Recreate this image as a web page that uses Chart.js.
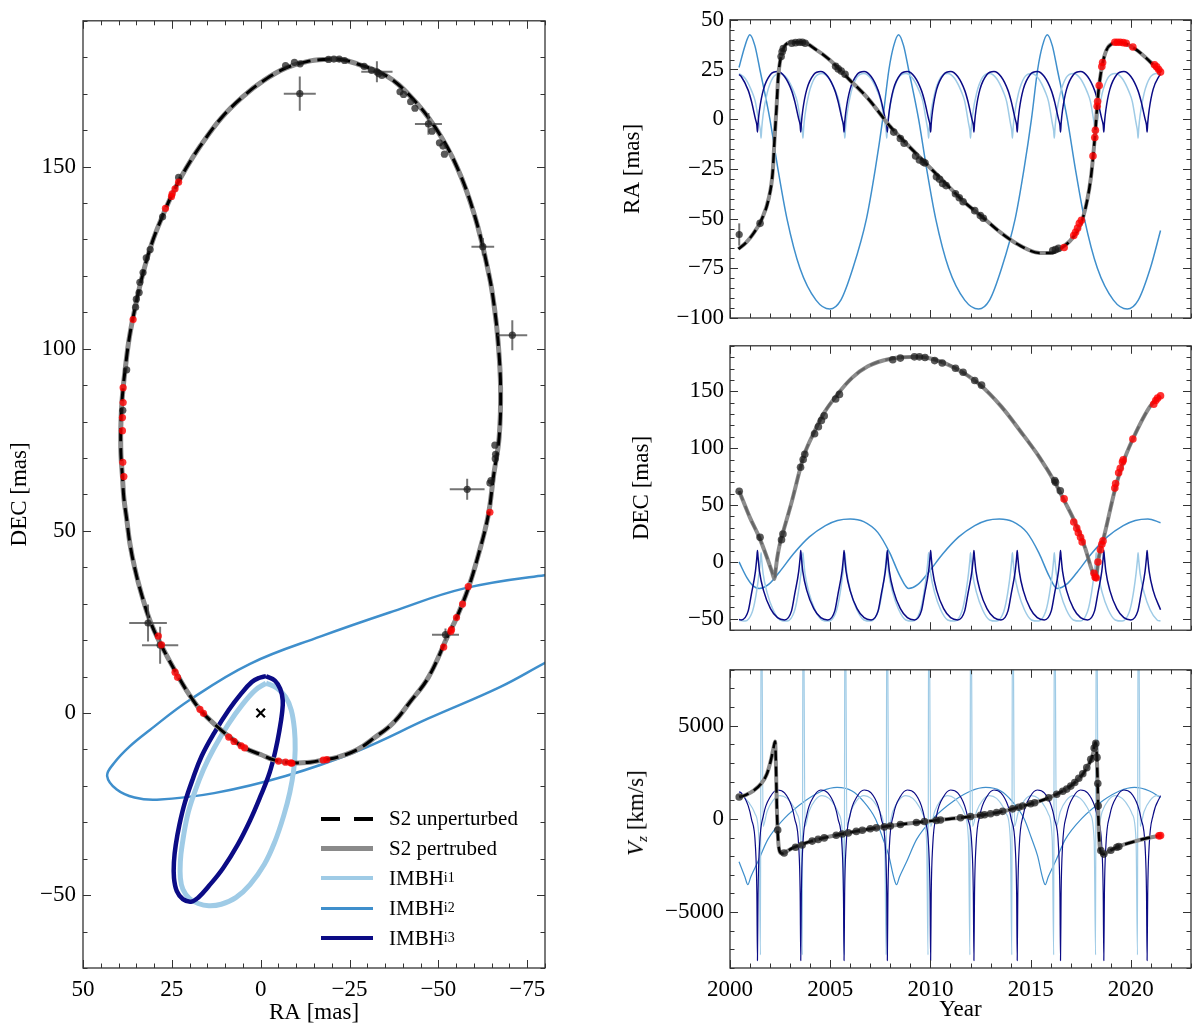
<!DOCTYPE html>
<html>
<head>
<meta charset="utf-8">
<title>S2 orbit and IMBH perturbers</title>
<script src="https://cdn.jsdelivr.net/npm/chart.js@4.4.1/dist/chart.umd.min.js"></script>
<style>
  html, body { margin: 0; padding: 0; background: #fff; }
  #page { position: relative; width: 1200px; height: 1030px; overflow: hidden;
          font-family: "Liberation Serif", "DejaVu Serif", serif; color: #000; }
  #page canvas { position: absolute; }
  #legend { position: absolute; left: 321px; top: 804px; font-size: 21px; line-height: 1; }
  #legend .row { height: 29.8px; display: flex; align-items: center; white-space: nowrap; }
  #legend .sw { display: inline-block; width: 52px; margin-right: 16px; }
  #legend sub { font-size: 14px; vertical-align: -4px; }
  #vzTitle { position: absolute; left: 637px; top: 813px; font-size: 23px; white-space: nowrap;
             transform: translate(-50%, -50%) rotate(-90deg); }
  #vzTitle sub { font-size: 15px; vertical-align: -4px; }
</style>
</head>
<body>
<div id="page">
  <canvas id="orbit" width="560" height="1030" style="left:0;top:0"></canvas>
  <canvas id="raPanel" width="600" height="345" style="left:600px;top:0"></canvas>
  <canvas id="decPanel" width="600" height="324" style="left:600px;top:326px"></canvas>
  <canvas id="vzPanel" width="600" height="380" style="left:600px;top:650px"></canvas>
  <div id="vzTitle"><i>V</i><sub><i>z</i></sub> [km/s]</div>
  <div id="legend">
    <div class="row"><span class="sw" style="height:3.5px;background:repeating-linear-gradient(90deg,#000 0 19px,transparent 19px 33px)"></span>S2 unperturbed</div>
    <div class="row"><span class="sw" style="height:5px;background:#8a8a8a"></span>S2 pertrubed</div>
    <div class="row"><span class="sw" style="height:4px;background:#9fcbe6"></span>IMBH<sub>i1</sub></div>
    <div class="row"><span class="sw" style="height:3px;background:#3f8fcc"></span>IMBH<sub>i2</sub></div>
    <div class="row"><span class="sw" style="height:4px;background:#0b0b85"></span>IMBH<sub>i3</sub></div>
  </div>
</div>
<script>
// ---- tick labels ----
var raTicks = [50, 25, 0, -25, -50, -75];
var decTicks = [-50, 0, 50, 100, 150];
var yearTicks = [2000, 2005, 2010, 2015, 2020];
var raTimeTicks = [-100, -75, -50, -25, 0, 25, 50];
var decTimeTicks = [-50, 0, 50, 100, 150];
var vzTicks = [-5000, 0, 5000];

// ---- left panel: sky plane (RA, DEC in mas) ----
var orbitRa = [-10.5, -7, -3.5, 0, 4.5, 8.5, 12.5, 16.6, 20.2, 23.6, 28.1, 31.1, 33.5, 35.4, 36.8, 37.7, 38.5, 38.9, 39.3, 39.4,
  39.3, 39.1, 38.7, 38.2, 37.0, 35.4, 33.3, 30.6, 27.8, 24.6, 21, 17.1, 11.1, 5, -1, -7, -13, -18.1, -22.5, -27.1, -35.2,
  -42.2, -49.2, -55.3, -60.3, -64.3, -65.8, -66.8, -67.5, -67.1, -65.5, -64.0, -61.2, -58.4, -55.1, -52.8, -47.2, -42, -37.2,
  -32, -27.1, -21.5, -18.1, -14, -10.5];
var orbitDec = [-13.7, -13.5, -12.8, -11.4, -9.6, -6.8, -3.5, 0.4, 5.2, 10.7, 18.8, 25.2, 32.5, 39.6, 46.5, 53.2, 59, 64.9, 70.5, 75.7,
  80.5, 84.7, 89.3, 93.8, 102.8, 111, 120, 129, 136, 143, 149.5, 155.5, 163.3, 169.2, 173.7, 177, 178.8, 179.4, 179.4, 178.2, 175,
  169.2, 160.6, 149.7, 136.2, 120, 111, 101.9, 89.3, 75.7, 64.9, 54.1, 43.2, 34.2, 26.1, 21.5, 9.8, 3, -2.8,
  -6.8, -10.1, -12.2, -12.8, -13.5, -13.7];

var obsRa = [-7, -9.5, -11.1, -19.1, -20.6, -22.1, -23.6, -29.1, -31.2, -33.2, -34.1, -39.2, -40.2, -42.2, -43.4, -48.2, -50.3, -51.3, -51.7,
  23.1, 27.6, 31.1, 32.2, 33.1, 34, 34.2, 35, 35.2, 37.7, 38.8, -65.9, -66.1, -66, -64.5, -64.8];
var obsDec = [177.7, 178.6, 178.2, 179.4, 179.5, 179.5, 179.1, 177.5, 176.4, 175.5, 175, 170.5, 169.8, 167.8, 166, 159.7, 156.5, 155.6, 153.4,
  147, 136.2, 127.2, 124.9, 120.9, 118.2, 115.4, 113.6, 111.4, 94.2, 83.1, 73.5, 71, 69.8, 63.1, 63.8];

var predRa = [23.1, 24.1, 24.9, 25.1, 26.8, 35.9, 38.7, 38.7, 38.9, 38.9, 38.8, 38.5, -64.5, -58.4, -56.8, -55.1, -53.7, -53.5, -51.5,
  28.8, 27.9, 24.1, 23.4, 17.1, 16.1, 9, 7.5, 5.5, 4.5, -5, -7, -8.5, -8.8, -17.6, -18.6];
var predDec = [145.7, 143.9, 142.5, 141.8, 138.5, 108, 89.3, 85.2, 81.1, 77.5, 68.8, 64.9, 55.1, 34.7, 29.9, 26.2, 22.9, 22.4, 18.1,
  21.1, 18.7, 11.2, 9.8, 1, -0.1, -6.6, -7.8, -9, -9.6, -13.2, -13.5, -13.7, -13.8, -12.9, -12.8];

var errRa = [-11, -32.7, -47.2, -62.5, -70.8, -58.1, 31.7, 28.3, -52];
var errDec = [170, 176, 161.7, 128, 103.7, 61.4, 24.7, 18.6, 21.5];
var errRaSig = [4.5, 4.4, 3.8, 3.2, 4.2, 4.9, 5.3, 5.1, 3.8];
var errDecSig = [4.7, 2.9, 3, 2.4, 4.1, 2.9, 5.1, 5.1, 1.7];

var imbh1Ra = [-1.5, -4.5, -7.0, -8.6, -9.5, -9.7, -9.3, -8.2, -6.5, -4.0, -1.0, 3.0, 7.0, 11.1, 14.6, 17.6, 20.1, 21.9, 22.6, 22.6,
  22.1, 20.6, 18.6, 16.1, 13.1, 9.0, 5.0, 1.5, -1.5];
var imbh1Dec = [8.2, 6.9, 4.4, 0.8, -4.6, -10.1, -15.5, -21.8, -28.1, -35.3, -41.6, -47.1, -50.7, -52.5, -52.9, -52.3, -50.9, -48.4, -45.3, -40.7,
  -36.2, -28.1, -21.8, -15.5, -9.6, -2.9, 2.5, 6.3, 8.2];
var imbh2Ra = [-90, -79.9, -67.3, -47.2, -27.1, -7, 13.1, 29.2, 35.5, 40.5, 43.2, 41.3, 37, 31.1, 20.1, 3, -17.1, -37.2,
  -57.3, -79.9, -90];
var imbh2Dec = [18.8, 13.7, 7.1, -1.5, -10.5, -17.3, -22, -23.8, -23.2, -21, -17.3, -13.8, -9.3, -4.6, 3.5, 13.5, 21.1, 27.9,
  34.2, 37.8, 38.4];
var imbh3Ra = [-1.5, -4.0, -5.5, -6.2, -6.0, -5.3, -4.2, -2.5, 0, 3.0, 6.5, 10.6, 14.6, 17.6, 19.6, 21.9, 23.6, 24.4, 24.4, 23.9,
  22.9, 21.3, 19.1, 16.6, 13.1, 9.0, 5.5, 2.5, 0.5, -1.5];
var imbh3Dec = [10.1, 8.9, 6.6, 3.5, -0.1, -4.6, -10.1, -16.4, -22.7, -29.5, -36.2, -42.6, -47.5, -50.7, -51.8, -51.1, -48.9, -45.3, -40.7, -36.2,
  -30.8, -24.5, -18.1, -11.8, -5.5, 0.8, 5.3, 8.5, 9.6, 10.1];

// ---- right panels: S2 vs time ----
var s2RaYears = [2000.42, 2000.80, 2001.18, 2001.56, 2001.94, 2002.13, 2002.22, 2002.32, 2002.41, 2002.51, 2002.70, 2003.08, 2003.65,
  2004.22, 2004.98, 2005.93, 2006.88, 2008.02, 2008.78, 2009.73, 2010.68, 2011.63, 2012.59, 2013.54, 2014.49, 2015.44, 2016.01,
  2016.58, 2017.15, 2017.62, 2018.00, 2018.19, 2018.38, 2018.67, 2019.05, 2019.43, 2020.19, 2020.95, 2021.48];
var s2RaVals = [-65.3, -62.1, -57.3, -50.8, -39.5, -26.6, -10.5, 5.6, 21.8, 29.8, 36.3, 38.7, 38.7,
  35.5, 29.8, 20.2, 10.5, -4.0, -12.1, -21.8, -31.5, -41.1, -49.2, -57.3, -63.7, -67.3, -67.3,
  -64.5, -58.9, -49.2, -29.8, -10.5, 13.7, 31.5, 37.9, 38.7, 35.5, 29.0, 23.4];

var s2DecYears = [2000.46, 2000.99, 2001.46, 2001.84, 2002.10, 2002.22, 2002.27, 2002.36, 2002.51, 2002.66, 2003.08, 2003.52, 2003.71,
  2004.22, 2004.60, 2005.36, 2006.10, 2006.88, 2008.02, 2009.35, 2010.11, 2011.25, 2012.40, 2013.54, 2014.49, 2015.44, 2016.20,
  2016.67, 2017.24, 2017.72, 2018.05, 2018.25, 2018.31, 2018.42, 2018.67, 2019.24, 2019.62, 2020.10, 2020.95, 2021.48];
var s2DecVals = [62.2, 39.2, 21.6, 4.1, -9, -14.9, -8, 4, 17.6, 27, 53, 83.2, 94.6,
  114.9, 128.4, 147.3, 162, 172, 178.6, 180.3, 178.4, 170.3, 156.8, 136.5, 114.9, 92, 70.3,
  54.1, 33.8, 12.2, -7, -15, -8, 6, 23, 66, 87.8, 108.1, 136.5, 146];

var s2VzYears = [2000.46, 2000.80, 2001.18, 2001.56, 2001.84, 2002.03, 2002.17, 2002.25, 2002.29, 2002.34, 2002.40, 2002.48, 2002.60,
  2002.75, 2003.08, 2004.03, 2004.98, 2006.88, 2008.78, 2010.68, 2012.59, 2013.73, 2014.49, 2015.44, 2016.39, 2017.15, 2017.72,
  2018.10, 2018.23, 2018.28, 2018.33, 2018.38, 2018.44, 2018.52, 2018.63, 2018.86, 2019.43, 2020.19, 2020.95, 2021.48];
var s2VzVals = [1172, 1293, 1517, 1896, 2414, 3103, 3793, 4150, 3000, 500, -1100, -1750, -1860,
  -1800, -1586, -1207, -948, -552, -259, -34, 207, 431, 655, 948, 1379, 1896, 2586,
  3448, 4100, 3800, 2400, 0, -1400, -1800, -1896, -1758, -1465, -1207, -1000, -896];

var raObsYears = [2001.50, 2002.55, 2002.60, 2002.66, 2003.08, 2003.27, 2003.46, 2003.61, 2003.75, 2005.27, 2005.40, 2005.55, 2005.74,
  2008.17, 2008.50, 2008.69, 2009.26, 2009.45, 2009.64, 2009.73, 2010.30, 2010.46, 2010.61, 2010.78, 2011.25, 2011.44, 2011.63,
  2012.21, 2012.49, 2012.64, 2016.10, 2016.24, 2016.39];
var raObsVals = [-52.4, 31.5, 33.9, 35.5, 38.2, 38.5, 38.7, 38.7, 38.2, 26.6, 25.3, 24.2, 22.6,
  -6.5, -9.7, -12.1, -18.5, -20.5, -21.5, -22, -29, -30.2, -32.3, -33.4, -37.5, -39.5, -41.5,
  -46, -48.5, -49.8, -66.1, -65.6, -65];
var raErrYears = [2000.46];
var raErrVals = [-58];
var raErrSig = [5.6];
var raPredYears = [2016.67, 2017.15, 2017.24, 2017.34, 2017.43, 2017.53, 2018.11, 2018.20, 2018.23, 2018.32, 2018.34, 2018.42,
  2018.55, 2018.59, 2019.20, 2019.33, 2019.47, 2019.62, 2019.77, 2020.10, 2021.18, 2021.29, 2021.39, 2021.48];
var raPredVals = [-64.5, -58.5, -56.9, -54.8, -52.4, -50.8, -18.5, -9.2, -5.6, 6.5, 8.9, 16.9,
  26.5, 28.5, 38.7, 38.7, 38.7, 38.5, 38.2, 36.3, 27.4, 26.3, 25, 23.7];

var decObsYears = [2000.46, 2001.50, 2002.57, 2002.64, 2003.52, 2003.65, 2003.73, 2004.22, 2004.41, 2004.56, 2004.70, 2005.27, 2005.46,
  2008.12, 2008.50, 2009.20, 2009.45, 2009.73, 2010.21, 2010.59, 2011.25, 2011.63, 2012.21, 2012.55, 2016.20, 2016.24, 2016.48];
var decObsVals = [62.2, 21.6, 19.5, 24.5, 83.2, 90, 94.6, 112.7, 118.9, 124.3, 128.4, 143.2, 147.3,
  177.8, 179.2, 180.3, 180.3, 179.7, 177, 174.9, 170.3, 166.8, 159.5, 155.4, 71.5, 70, 62.5];
var decPredYears = [2016.67, 2017.15, 2017.30, 2017.38, 2017.49, 2017.57, 2018.16, 2018.22, 2018.27, 2018.36, 2018.48, 2018.55,
  2018.61, 2019.20, 2019.24, 2019.39, 2019.47, 2019.58, 2019.62, 2020.10, 2021.14, 2021.24, 2021.33, 2021.48];
var decPredVals = [55.4, 35.1, 29.7, 25.7, 21.6, 17.6, -10, -13.5, -14, 0, 10.8, 15.5,
  18.5, 64.9, 68.9, 78.4, 82.4, 87.8, 89.7, 108.1, 138.6, 141.9, 144, 146];

var vzObsYears = [2000.46, 2002.38, 2002.70, 2003.27, 2003.60, 2004.10, 2004.40, 2004.70, 2005.30, 2005.60, 2005.90, 2006.30, 2006.60,
  2007.00, 2007.30, 2007.70, 2008.00, 2008.50, 2009.30, 2009.70, 2010.30, 2010.50, 2011.50, 2012.00, 2012.50, 2012.70, 2013.00,
  2013.30, 2013.60, 2014.10, 2014.40, 2014.60, 2015.00, 2015.20, 2015.90, 2016.30, 2016.60, 2016.80, 2017.00, 2017.20, 2017.40,
  2017.60, 2017.80, 2018.00, 2018.17, 2018.25, 2018.31, 2018.35, 2018.37, 2018.50, 2018.65, 2019.00, 2019.30, 2019.40];
var vzObsVals = [1172, -600, -1830, -1520, -1400, -1190, -1100, -1020, -880, -810, -750, -670, -610,
  -530, -480, -430, -380, -300, -190, -140, -80, -55, 60, 130, 195, 225, 280,
  345, 405, 540, 625, 690, 810, 870, 1130, 1320, 1480, 1600, 1760, 1950, 2180,
  2420, 2750, 3200, 3800, 4050, 3300, 1900, 700, -1700, -1890, -1680, -1520, -1480];
var vzPredYears = [2021.40, 2021.48];
var vzPredVals = [-910, -896];

// ---- right panels: IMBH vs time ----
var imbh1Years = [2000.45, 2000.76, 2001.11, 2001.26, 2001.45, 2001.52,
  2001.55, 2001.58, 2001.65, 2001.85, 2002.15, 2002.50, 2002.85, 2003.20, 2003.35, 2003.54, 2003.61,
  2003.64, 2003.67, 2003.74, 2003.94, 2004.24, 2004.59, 2004.94, 2005.29, 2005.44, 2005.63, 2005.70,
  2005.73, 2005.76, 2005.83, 2006.03, 2006.33, 2006.68, 2007.03, 2007.38, 2007.53, 2007.72, 2007.79,
  2007.82, 2007.85, 2007.92, 2008.12, 2008.42, 2008.77, 2009.12, 2009.47, 2009.62, 2009.81, 2009.88,
  2009.91, 2009.94, 2010.01, 2010.21, 2010.51, 2010.86, 2011.21, 2011.56, 2011.71, 2011.90, 2011.97,
  2012.00, 2012.03, 2012.10, 2012.30, 2012.60, 2012.95, 2013.30, 2013.65, 2013.80, 2013.99, 2014.06,
  2014.09, 2014.12, 2014.19, 2014.39, 2014.69, 2015.04, 2015.39, 2015.74, 2015.89, 2016.08, 2016.15,
  2016.18, 2016.21, 2016.28, 2016.48, 2016.78, 2017.13, 2017.48, 2017.83, 2017.98, 2018.17, 2018.24,
  2018.27, 2018.30, 2018.37, 2018.57, 2018.87, 2019.22, 2019.57, 2019.92, 2020.07, 2020.26, 2020.33,
  2020.36, 2020.39, 2020.46, 2020.66, 2020.96, 2021.31, 2021.48];
var imbh1RaT = [23, 20.5, 13.5, 9, -2, -6,
  -9.5, -5, 2, 13, 21, 23, 20.5, 13.5, 9, -2, -6,
  -9.5, -5, 2, 13, 21, 23, 20.5, 13.5, 9, -2, -6,
  -9.5, -5, 2, 13, 21, 23, 20.5, 13.5, 9, -2, -6,
  -9.5, -5, 2, 13, 21, 23, 20.5, 13.5, 9, -2, -6,
  -9.5, -5, 2, 13, 21, 23, 20.5, 13.5, 9, -2, -6,
  -9.5, -5, 2, 13, 21, 23, 20.5, 13.5, 9, -2, -6,
  -9.5, -5, 2, 13, 21, 23, 20.5, 13.5, 9, -2, -6,
  -9.5, -5, 2, 13, 21, 23, 20.5, 13.5, 9, -2, -6,
  -9.5, -5, 2, 13, 21, 23, 20.5, 13.5, 9, -2, -6,
  -9.5, -5, 2, 13, 21, 23, 22];
var imbh1DecT = [-51.2, -52, -44, -33, -10, 2,
  8, 2, -10, -27, -42, -51, -52, -44, -33, -10, 2,
  8, 2, -10, -27, -42, -51, -52, -44, -33, -10, 2,
  8, 2, -10, -27, -42, -51, -52, -44, -33, -10, 2,
  8, 2, -10, -27, -42, -51, -52, -44, -33, -10, 2,
  8, 2, -10, -27, -42, -51, -52, -44, -33, -10, 2,
  8, 2, -10, -27, -42, -51, -52, -44, -33, -10, 2,
  8, 2, -10, -27, -42, -51, -52, -44, -33, -10, 2,
  8, 2, -10, -27, -42, -51, -52, -44, -33, -10, 2,
  8, 2, -10, -27, -42, -51, -52, -44, -33, -10, 2,
  8, 2, -10, -27, -42, -51, -52];
var imbh1VzT = [1240, 1100, 600, 250, -1200, -7300,
  12000, 12000, -400, 400, 1000, 1250, 1100, 600, 250, -1200, -7300,
  12000, 12000, -400, 400, 1000, 1250, 1100, 600, 250, -1200, -7300,
  12000, 12000, -400, 400, 1000, 1250, 1100, 600, 250, -1200, -7300,
  12000, 12000, -400, 400, 1000, 1250, 1100, 600, 250, -1200, -7300,
  12000, 12000, -400, 400, 1000, 1250, 1100, 600, 250, -1200, -7300,
  12000, 12000, -400, 400, 1000, 1250, 1100, 600, 250, -1200, -7300,
  12000, 12000, -400, 400, 1000, 1250, 1100, 600, 250, -1200, -7300,
  12000, 12000, -400, 400, 1000, 1250, 1100, 600, 250, -1200, -7300,
  12000, 12000, -400, 400, 1000, 1250, 1100, 600, 250, -1200, -7300,
  12000, 12000, -400, 400, 1000, 1250, 1180];

var imbh2RaYears = [2000.45, 2000.75, 2000.99, 2001.24, 2001.49, 2001.99, 2002.39, 2002.84, 2003.49, 2004.29, 2004.98, 2005.53,
  2006.13, 2006.81, 2007.25, 2007.62, 2007.93, 2008.17, 2008.41, 2008.66, 2008.91, 2009.41, 2009.81, 2010.26, 2010.91, 2011.71,
  2012.40, 2012.95, 2013.55, 2014.23, 2014.67, 2015.04, 2015.35, 2015.59, 2015.83, 2016.08, 2016.33, 2016.83, 2017.23, 2017.68,
  2018.33, 2019.13, 2019.82, 2020.37, 2020.97, 2021.48];
var imbh2RaVals = [26, 37, 42.5, 37, 25, 0, -25, -50, -75, -91, -95.5, -91,
  -75, -50, -25, 0, 25, 37, 42.5, 37, 25, 0, -25, -50, -75, -91,
  -95.5, -91, -75, -50, -25, 0, 25, 37, 42.5, 37, 25, 0, -25, -50,
  -75, -91, -95.5, -91, -75, -56];
var imbh2DecYears = [2000.45, 2000.85, 2001.15, 2001.46, 2001.91, 2002.46, 2003.16, 2003.96, 2004.76, 2005.36, 2006.00, 2006.67,
  2007.37, 2007.97, 2008.47, 2008.91, 2009.36, 2009.91, 2010.61, 2011.41, 2012.21, 2012.81, 2013.44, 2014.11, 2014.81, 2015.41,
  2015.91, 2016.32, 2016.77, 2017.32, 2018.02, 2018.82, 2019.62, 2020.22, 2020.85, 2021.48];
var imbh2DecVals = [0, -14, -21, -23.3, -20, -9, 7, 22, 32, 36.5, 37.8, 35.5,
  26, 8, -12, -23.3, -20, -9, 7, 22, 32, 36.5, 37.8, 35.5, 26, 8,
  -12, -23.3, -20, -9, 7, 22, 32, 36.5, 37.8, 34.5];
var imbh2VzYears = [2000.45, 2000.74, 2000.89, 2001.04, 2001.39, 2001.89, 2002.69, 2003.79, 2004.59, 2005.34, 2006.09, 2006.61,
  2007.26, 2007.61, 2007.93, 2008.16, 2008.31, 2008.46, 2008.81, 2009.31, 2010.11, 2011.21, 2012.01, 2012.76, 2013.51, 2014.03,
  2014.68, 2015.03, 2015.35, 2015.58, 2015.73, 2015.88, 2016.23, 2016.73, 2017.53, 2018.63, 2019.43, 2020.18, 2020.93, 2021.48];
var imbh2VzVals = [-2300, -3100, -3530, -3100, -2300, -1100, 0, 1000, 1500, 1690, 1500, 1000,
  0, -1000, -2000, -3100, -3530, -3100, -2300, -1100, 0, 1000, 1500, 1690, 1500, 1000,
  0, -1000, -2000, -3100, -3530, -3100, -2300, -1100, 0, 1000, 1500, 1690, 1500, 1150];

var imbh3Years = [2000.45, 2000.56, 2000.91, 2001.07, 2001.27, 2001.34,
  2001.37, 2001.40, 2001.47, 2001.67, 2002.02, 2002.37, 2002.72, 2003.07, 2003.23, 2003.43, 2003.50,
  2003.53, 2003.56, 2003.63, 2003.83, 2004.18, 2004.53, 2004.88, 2005.23, 2005.39, 2005.59, 2005.66,
  2005.69, 2005.72, 2005.79, 2005.99, 2006.34, 2006.69, 2007.04, 2007.39, 2007.55, 2007.75, 2007.82,
  2007.85, 2007.88, 2007.95, 2008.15, 2008.50, 2008.85, 2009.20, 2009.55, 2009.71, 2009.91, 2009.98,
  2010.01, 2010.04, 2010.11, 2010.31, 2010.66, 2011.01, 2011.36, 2011.71, 2011.87, 2012.07, 2012.14,
  2012.17, 2012.20, 2012.27, 2012.47, 2012.82, 2013.17, 2013.52, 2013.87, 2014.03, 2014.23, 2014.30,
  2014.33, 2014.36, 2014.43, 2014.63, 2014.98, 2015.33, 2015.68, 2016.03, 2016.19, 2016.39, 2016.46,
  2016.49, 2016.52, 2016.59, 2016.79, 2017.14, 2017.49, 2017.84, 2018.19, 2018.35, 2018.55, 2018.62,
  2018.65, 2018.68, 2018.75, 2018.95, 2019.30, 2019.65, 2020.00, 2020.35, 2020.51, 2020.71, 2020.78,
  2020.81, 2020.84, 2020.91, 2021.11, 2021.48];
var imbh3RaT = [22.5, 21.5, 14.5, 9, 0, -3,
  -6.5, -2, 4.5, 15, 22.5, 24, 21.5, 14.5, 9, 0, -3,
  -6.5, -2, 4.5, 15, 22.5, 24, 21.5, 14.5, 9, 0, -3,
  -6.5, -2, 4.5, 15, 22.5, 24, 21.5, 14.5, 9, 0, -3,
  -6.5, -2, 4.5, 15, 22.5, 24, 21.5, 14.5, 9, 0, -3,
  -6.5, -2, 4.5, 15, 22.5, 24, 21.5, 14.5, 9, 0, -3,
  -6.5, -2, 4.5, 15, 22.5, 24, 21.5, 14.5, 9, 0, -3,
  -6.5, -2, 4.5, 15, 22.5, 24, 21.5, 14.5, 9, 0, -3,
  -6.5, -2, 4.5, 15, 22.5, 24, 21.5, 14.5, 9, 0, -3,
  -6.5, -2, 4.5, 15, 22.5, 24, 21.5, 14.5, 9, 0, -3,
  -6.5, -2, 4.5, 15, 23];
var imbh3DecT = [-50.5, -51, -43, -28, -8, 4,
  10, 4, -8, -25, -41, -49, -51, -43, -28, -8, 4,
  10, 4, -8, -25, -41, -49, -51, -43, -28, -8, 4,
  10, 4, -8, -25, -41, -49, -51, -43, -28, -8, 4,
  10, 4, -8, -25, -41, -49, -51, -43, -28, -8, 4,
  10, 4, -8, -25, -41, -49, -51, -43, -28, -8, 4,
  10, 4, -8, -25, -41, -49, -51, -43, -28, -8, 4,
  10, 4, -8, -25, -41, -49, -51, -43, -28, -8, 4,
  10, 4, -8, -25, -41, -49, -51, -43, -28, -8, 4,
  10, 4, -8, -25, -41, -49, -51, -43, -28, -8, 4,
  10, 4, -8, -25, -42];
var imbh3VzT = [1450, 1400, 700, 0, -1500, -4000,
  -7600, -4000, -1500, 200, 1200, 1550, 1400, 700, 0, -1500, -4000,
  -7600, -4000, -1500, 200, 1200, 1550, 1400, 700, 0, -1500, -4000,
  -7600, -4000, -1500, 200, 1200, 1550, 1400, 700, 0, -1500, -4000,
  -7600, -4000, -1500, 200, 1200, 1550, 1400, 700, 0, -1500, -4000,
  -7600, -4000, -1500, 200, 1200, 1550, 1400, 700, 0, -1500, -4000,
  -7600, -4000, -1500, 200, 1200, 1550, 1400, 700, 0, -1500, -4000,
  -7600, -4000, -1500, 200, 1200, 1550, 1400, 700, 0, -1500, -4000,
  -7600, -4000, -1500, 200, 1200, 1550, 1400, 700, 0, -1500, -4000,
  -7600, -4000, -1500, 200, 1200, 1550, 1400, 700, 0, -1500, -4000,
  -7600, -4000, -1500, 200, 1250];

// ---- styling ----
var FONT = '"Liberation Serif", "DejaVu Serif", serif';
var INK = '#000';
var C_I1 = '#9fcbe6', C_I2 = '#3f8fcc', C_I3 = '#0b0b85';
var C_PERT = '#8a8a8a';
var DOT = 'rgba(25,25,25,0.72)', RED = 'rgba(255,0,0,0.8)';

function minus(v) { return v < 0 ? '\u2212' + Math.abs(v) : String(v); }
function pts(xs, ys) { return xs.map(function (x, i) { return {x: x, y: ys[i]}; }); }

function curve(xs, ys, color, width, order, dash, tension) {
  return {
    data: pts(xs, ys), showLine: true, fill: false,
    borderColor: color, backgroundColor: color, borderWidth: width, borderDash: dash || [],
    borderJoinStyle: 'round', pointRadius: 0, pointHoverRadius: 0, order: order,
    cubicInterpolationMode: tension ? 'default' : 'monotone', tension: tension || 0
  };
}

function dots(xs, ys, color, r, order) {
  return {
    data: pts(xs, ys), showLine: false, pointRadius: r, pointHoverRadius: r,
    pointBackgroundColor: color, backgroundColor: color, pointBorderWidth: 0, borderWidth: 0, order: order
  };
}

function axis(o) {
  return {
    type: 'linear', min: o.min, max: o.max, reverse: !!o.reverse,
    afterBuildTicks: function (s) { s.ticks = o.ticks.map(function (v) { return {value: v}; }); },
    afterFit: function (s) { if (s.isHorizontal()) s.height = o.size; else s.width = o.size; },
    grid: {display: false, drawTicks: false},
    border: {display: false},
    ticks: {display: o.labels !== false, color: INK, font: {family: FONT, size: 23}, padding: o.pad || 0,
             maxRotation: 0, autoSkip: false, callback: function (v) { return minus(v); }},
    title: {display: !!o.title, text: o.title || '', color: INK, font: {family: FONT, size: 23},
            padding: o.titlePad || 0}
  };
}

// frame plus inward major / minor ticks on all four sides
var framePlugin = {
  id: 'frame',
  afterDatasetsDraw: function (chart, args, opts) {
    var ctx = chart.ctx, a = chart.chartArea;
    ctx.save();
    ctx.strokeStyle = '#333';
    ctx.lineWidth = 1;
    ctx.beginPath();
    function mark(s, v, len) {
      var p = Math.round(s.getPixelForValue(v)) + 0.5;
      if (s.isHorizontal()) {
        ctx.moveTo(p, a.bottom); ctx.lineTo(p, a.bottom - len);
        ctx.moveTo(p, a.top); ctx.lineTo(p, a.top + len);
      } else {
        ctx.moveTo(a.left, p); ctx.lineTo(a.left + len, p);
        ctx.moveTo(a.right, p); ctx.lineTo(a.right - len, p);
      }
    }
    [[chart.scales.x, opts.xMinor], [chart.scales.y, opts.yMinor]].forEach(function (pair) {
      var s = pair[0], step = pair[1];
      s.ticks.forEach(function (t) { mark(s, t.value, 8); });
      for (var k = Math.ceil(s.min / step); k * step <= s.max; k++) mark(s, k * step, 4.5);
    });
    ctx.stroke();
    ctx.lineWidth = 1.3;
    ctx.strokeRect(a.left, a.top, a.right - a.left, a.bottom - a.top);
    ctx.restore();
  }
};

// error bars drawn just before the dataset that carries them
var errPlugin = {
  id: 'errbars',
  beforeDatasetDraw: function (chart, args) {
    var ds = chart.data.datasets[args.index];
    if (!ds.errX && !ds.errY) return;
    var ctx = chart.ctx, xs = chart.scales.x, ys = chart.scales.y;
    ctx.save();
    ctx.strokeStyle = 'rgba(70,70,70,0.75)';
    ctx.lineWidth = 2;
    ctx.beginPath();
    ds.data.forEach(function (p, i) {
      var px = xs.getPixelForValue(p.x), py = ys.getPixelForValue(p.y);
      if (ds.errX) {
        ctx.moveTo(xs.getPixelForValue(p.x - ds.errX[i]), py);
        ctx.lineTo(xs.getPixelForValue(p.x + ds.errX[i]), py);
      }
      if (ds.errY) {
        ctx.moveTo(px, ys.getPixelForValue(p.y - ds.errY[i]));
        ctx.lineTo(px, ys.getPixelForValue(p.y + ds.errY[i]));
      }
    });
    ctx.stroke();
    ctx.restore();
  }
};

Chart.register(framePlugin, errPlugin);

function options(x, y, pad, minor) {
  return {
    responsive: false, animation: false, events: [],
    layout: {padding: pad},
    elements: {line: {capBezierPoints: false}, point: {radius: 0}},
    plugins: {legend: {display: false}, tooltip: {enabled: false}, frame: minor},
    scales: {x: x, y: y}
  };
}

// ---- left: sky-plane orbit ----
var errSet = dots(errRa, errDec, DOT, 3.6, 1);
errSet.errX = errRaSig;
errSet.errY = errDecSig;
new Chart(document.getElementById('orbit'), {
  type: 'scatter',
  data: {datasets: [
    dots(predRa, predDec, RED, 3.6, 0),
    dots(obsRa, obsDec, DOT, 3.6, 1),
    errSet,
    {data: [{x: 0, y: 0}], showLine: false, pointStyle: 'crossRot', pointRadius: 6, pointBorderWidth: 2.2,
     pointBorderColor: '#000', borderColor: '#000', order: 2},
    curve(orbitRa, orbitDec, '#000', 3, 3, [13, 7], 0.4),
    curve(orbitRa, orbitDec, C_PERT, 5, 4, null, 0.4),
    curve(imbh3Ra, imbh3Dec, C_I3, 4.5, 5, null, 0.4),
    curve(imbh1Ra, imbh1Dec, C_I1, 5, 6, null, 0.4),
    curve(imbh2Ra, imbh2Dec, C_I2, 2.5, 7, null, 0.4)
  ]},
  options: options(
    axis({min: -80, max: 50, reverse: true, ticks: raTicks, size: 62, pad: 8, title: 'RA [mas]', titlePad: {top: 0, bottom: 3}}),
    axis({min: -70, max: 190, ticks: decTicks, size: 83, pad: 7, title: 'DEC [mas]', titlePad: {top: 6, bottom: 0}}),
    {top: 8, right: 15, bottom: 0, left: 0},
    {xMinor: 5, yMinor: 10}
  )
});

// ---- right: RA vs time ----
var raErrSet = dots(raErrYears, raErrVals, DOT, 3.6, 1);
raErrSet.errY = raErrSig;
new Chart(document.getElementById('raPanel'), {
  type: 'scatter',
  data: {datasets: [
    dots(raPredYears, raPredVals, RED, 3.8, 0),
    dots(raObsYears, raObsVals, DOT, 3.8, 1),
    raErrSet,
    curve(s2RaYears, s2RaVals, '#000', 2.5, 2, [10, 6]),
    curve(s2RaYears, s2RaVals, C_PERT, 4, 3),
    curve(imbh3Years, imbh3RaT, C_I3, 1.5, 4),
    curve(imbh1Years, imbh1RaT, C_I1, 1.5, 5),
    curve(imbh2RaYears, imbh2RaVals, C_I2, 1.5, 6)
  ]},
  options: options(
    axis({min: 2000, max: 2023, ticks: yearTicks, size: 27, labels: false}),
    axis({min: -100, max: 50, ticks: raTimeTicks, size: 130, pad: 6, title: 'RA [mas]', titlePad: {top: 19, bottom: 0}}),
    {top: 7, right: 9, bottom: 0, left: 0},
    {xMinor: 1, yMinor: 5}
  )
});

// ---- right: DEC vs time ----
new Chart(document.getElementById('decPanel'), {
  type: 'scatter',
  data: {datasets: [
    dots(decPredYears, decPredVals, RED, 3.8, 0),
    dots(decObsYears, decObsVals, DOT, 3.8, 1),
    curve(s2DecYears, s2DecVals, 'rgba(120,120,120,0.85)', 4, 2),
    curve(s2DecYears, s2DecVals, '#000', 2.5, 3, [10, 6]),
    curve(imbh3Years, imbh3DecT, C_I3, 1.5, 4),
    curve(imbh1Years, imbh1DecT, C_I1, 1.5, 5),
    curve(imbh2DecYears, imbh2DecVals, C_I2, 1.5, 6)
  ]},
  options: options(
    axis({min: 2000, max: 2023, ticks: yearTicks, size: 7, labels: false}),
    axis({min: -60, max: 190, ticks: decTimeTicks, size: 130, pad: 6, title: 'DEC [mas]', titlePad: {top: 28, bottom: 0}}),
    {top: 7.5, right: 9, bottom: 0, left: 0},
    {xMinor: 1, yMinor: 10}
  )
});

// ---- right: radial velocity vs time ----
new Chart(document.getElementById('vzPanel'), {
  type: 'scatter',
  data: {datasets: [
    dots(vzPredYears, vzPredVals, RED, 3.8, 0),
    dots(vzObsYears, vzObsVals, DOT, 3.8, 1),
    curve(s2VzYears, s2VzVals, '#000', 2.5, 2, [10, 6]),
    curve(s2VzYears, s2VzVals, C_PERT, 4, 3),
    curve(imbh3Years, imbh3VzT, C_I3, 1.2, 4),
    curve(imbh1Years, imbh1VzT, C_I1, 1.2, 5),
    curve(imbh2VzYears, imbh2VzVals, C_I2, 1.2, 6)
  ]},
  options: options(
    axis({min: 2000, max: 2023, ticks: yearTicks, size: 62, pad: 8, title: 'Year', titlePad: {top: 0, bottom: 6}}),
    axis({min: -8000, max: 8000, ticks: vzTicks, size: 130, pad: 6}),
    {top: 9, right: 9, bottom: 0, left: 0},
    {xMinor: 1, yMinor: 1000}
  )
});
</script>
</body>
</html>
